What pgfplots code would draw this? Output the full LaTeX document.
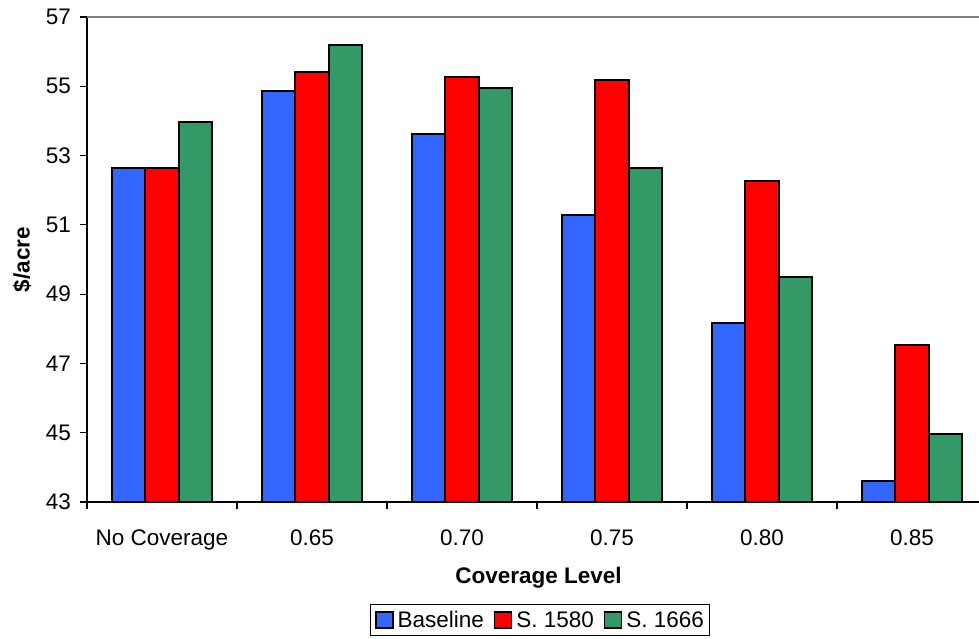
\documentclass[border=0pt]{standalone}
\usepackage{fontspec}
\setmainfont{Liberation Sans}
\usepackage{pgfplots}
\pgfplotsset{compat=1.18}
\definecolor{cBlue}{HTML}{3366FF}
\definecolor{cRed}{HTML}{FF0000}
\definecolor{cGreen}{HTML}{339966}
\begin{document}
\begin{tikzpicture}
\path[use as bounding box] (0,0) rectangle (979pt,638pt);
\begin{axis}[
  at={(87pt,136pt)}, anchor=south west,
  width=894pt, height=485pt, scale only axis,
  xmin=-0.5, xmax=5.46,
  ymin=43, ymax=57,
  ytick={43,45,...,57},
  xtick={-0.5,0.5,...,4.5},
  xticklabels={No Coverage,0.65,0.70,0.75,0.80,0.85},
  xticklabel style={xshift=75pt, yshift=-17pt},
  axis x line*=bottom, axis y line*=left,
  axis line style={black, line width=1.2pt},
  tick align=outside, major tick length=7pt,
  tick style={black, line width=1.2pt},
  /pgf/number format/assume math mode=true,
  tick label style={font=\fontsize{22.5}{27}\selectfont},
  yticklabel style={inner sep=1pt, xshift=-8pt},
  ybar=0pt, bar width=33.5pt,
  xlabel={Coverage Level},
  ylabel={\$/acre},
  every axis x label/.style={at={(axis description cs:0.505,-0.1557)}, anchor=center, font=\fontsize{22.5}{27}\selectfont\bfseries},
  every axis y label/.style={at={(axis description cs:-0.0727,0.5)}, rotate=90, anchor=center, font=\fontsize{22.5}{27}\selectfont\bfseries},
  legend columns=3,
  legend style={at={(axis description cs:0.5067,-0.2433)}, anchor=center,
    draw=black, line width=1pt, font=\fontsize{22.5}{27}\selectfont,
    inner xsep=5pt, inner ysep=4pt,
    nodes={inner xsep=1pt, inner ysep=3pt},
    /tikz/every odd column/.append style={column sep=3pt},
    /tikz/every even column/.append style={column sep=9pt}},
  legend image code/.code={\draw[#1, line width=1.5pt] (0pt,-8pt) rectangle (17pt,8pt);},
  clip=true,
]
\addplot[fill=cBlue, draw=black, line width=2pt] coordinates {(0,52.63) (1,54.87) (2,53.62) (3,51.29) (4,48.17) (5,43.61)};
\addplot[fill=cRed, draw=black, line width=2pt] coordinates {(0,52.63) (1,55.42) (2,55.26) (3,55.18) (4,52.26) (5,47.54)};
\addplot[fill=cGreen, draw=black, line width=2pt] coordinates {(0,53.96) (1,56.20) (2,54.96) (3,52.63) (4,49.50) (5,44.95)};
\legend{Baseline,S. 1580,S. 1666}
\draw[gray, line width=1.2pt] (rel axis cs:0,1) -- (rel axis cs:1,1);
\end{axis}
\end{tikzpicture}
\end{document}
